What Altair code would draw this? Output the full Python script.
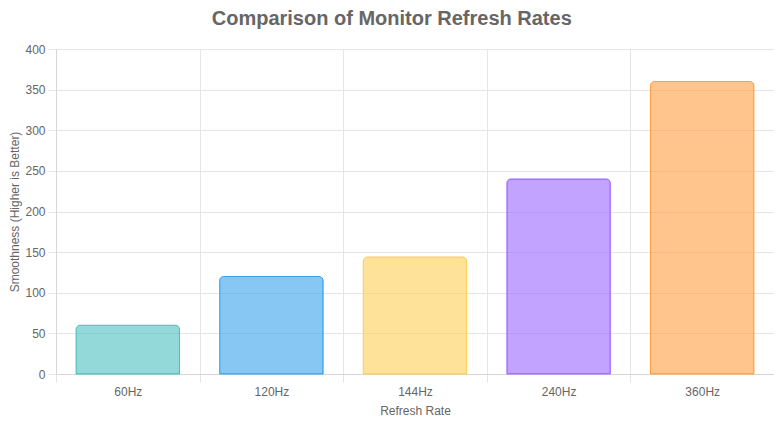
import altair as alt
import pandas as pd

categories = ["60Hz", "120Hz", "144Hz", "240Hz", "360Hz"]
values = [60, 120, 144, 240, 360]
fill_colors = ["#4bc0c0", "#36a2eb", "#ffce56", "#9966ff", "#ff9f40"]
border_colors = ["#4bc0c0", "#36a2eb", "#ffce56", "#9966ff", "#ff9f40"]
y_ticks = [0, 50, 100, 150, 200, 250, 300, 350, 400]

df = pd.DataFrame({"rate": categories, "smooth": values})

FONT = "Liberation Sans"
GRID = "#e5e5e5"
TEXT = "#666666"

chart = (
    alt.Chart(df, title=alt.Title(
        "Comparison of Monitor Refresh Rates",
        font=FONT, fontSize=20, fontWeight="bold", color=TEXT,
        anchor="middle", frame="bounds", offset=14,
    ))
    .mark_bar(
        fillOpacity=0.6,
        strokeWidth=1,
        cornerRadiusTopLeft=4,
        cornerRadiusTopRight=4,
        width=alt.RelativeBandSize(0.72),
    )
    .encode(
        x=alt.X(
            "rate:N",
            sort=categories,
            scale=alt.Scale(paddingInner=0, paddingOuter=0),
            axis=alt.Axis(
                title="Refresh Rate",
                labelAngle=0,
                grid=True,
                tickBand="extent",
                gridColor=GRID,
                tickColor=GRID,
                tickSize=8,
                domainColor="#d6d6d6",
                labelPadding=4,
                titlePadding=8,
            ),
        ),
        y=alt.Y(
            "smooth:Q",
            scale=alt.Scale(domain=[0, 400]),
            axis=alt.Axis(
                title="Smoothness (Higher is Better)",
                values=y_ticks,
                gridColor=GRID,
                tickColor=GRID,
                tickSize=8,
                domainColor="#d6d6d6",
                labelPadding=3,
                titlePadding=3,
            ),
        ),
        color=alt.Color("rate:N", scale=alt.Scale(domain=categories, range=fill_colors), legend=None),
        stroke=alt.Stroke("rate:N", scale=alt.Scale(domain=categories, range=border_colors), legend=None),
    )
    .properties(
        width=718,
        height=325,
        autosize="none",
        padding={"left": 48, "top": 41, "right": 0, "bottom": 43},
    )
    .configure_view(stroke=None)
    .configure_axis(
        labelFont=FONT, labelFontSize=12, labelColor=TEXT,
        titleFont=FONT, titleFontSize=12, titleColor=TEXT, titleFontWeight="normal",
    )
)

chart.save("out.html", embed_options={"renderer": "svg", "actions": False})
